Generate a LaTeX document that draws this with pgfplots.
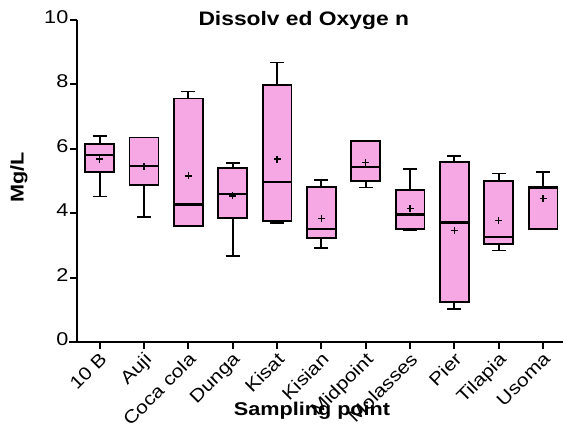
\documentclass[border=0pt]{standalone}
\usepackage{pgfplots}
\pgfplotsset{compat=1.18}
\usepgfplotslibrary{statistics}
\usepackage{fontspec}
\setmainfont{Liberation Sans}[FakeStretch=1.17]
\definecolor{boxpink}{RGB}{246,168,228}
\begin{document}
\begin{tikzpicture}
\begin{axis}[
  name=ax,
  scale only axis, width=485.5pt, height=322pt,
  xmin=-0.5, xmax=10.45, ymin=0, ymax=10,
  axis x line=bottom, axis y line=left,
  axis line style={-, line width=2pt},
  x axis line style={shorten <=-8pt},
  xtick={0,...,10},
  xticklabels={10 B, Auji, Coca cola, Dunga, Kisat, Kisian, Midpoint, Molasses, Pier, Tilapia, Usoma},
  ytick={0,2,4,6,8,10},
  tick align=outside, major tick length=7pt,
  every tick/.style={black, line width=2pt},
  ticklabel style={font=\fontsize{18.5}{18.5}\selectfont},
  xticklabel style={rotate=45, anchor=north east, inner sep=1pt, xshift=-1pt, yshift=0pt, font=\fontsize{18}{18}\selectfont},
  yticklabel style={anchor=east, yshift=3pt, inner sep=2pt},
  /pgf/number format/assume math mode=true,
  xlabel={Sampling point}, ylabel={Mg/L}, title={Dissolv ed Oxyge n},
  label style={font=\bfseries\fontsize{18.5}{18.5}\selectfont},
  xlabel style={at={(axis description cs:0.483,-0.2143)}, anchor=center},
  ylabel style={at={(axis description cs:-0.1205,0.512)}, anchor=center},
  title style={at={(axis description cs:0.466,0.9845)}, anchor=base, yshift=-7pt, font=\bfseries\fontsize{19.5}{19.5}\selectfont},
  clip=false,
  boxplot/draw direction=y,
  boxplot/box extend=0.65,
  boxplot/whisker extend=0.32,
  boxplot/every median/.style={line width=2.2pt},
]
\addplot[boxplot prepared={draw position=0, lower whisker=4.52, lower quartile=5.29, median=5.81, upper quartile=6.16, upper whisker=6.40}, draw=black, fill=boxpink, line width=1.8pt] coordinates {};
\addplot[boxplot prepared={draw position=1, lower whisker=3.87, lower quartile=4.88, median=5.47, upper quartile=6.35, upper whisker=6.35}, draw=black, fill=boxpink, line width=1.8pt] coordinates {};
\addplot[boxplot prepared={draw position=2, lower whisker=3.59, lower quartile=3.59, median=4.27, upper quartile=7.56, upper whisker=7.78}, draw=black, fill=boxpink, line width=1.8pt] coordinates {};
\addplot[boxplot prepared={draw position=3, lower whisker=2.68, lower quartile=3.85, median=4.60, upper quartile=5.40, upper whisker=5.55}, draw=black, fill=boxpink, line width=1.8pt] coordinates {};
\addplot[boxplot prepared={draw position=4, lower whisker=3.69, lower quartile=3.76, median=4.97, upper quartile=7.97, upper whisker=8.68}, draw=black, fill=boxpink, line width=1.8pt] coordinates {};
\addplot[boxplot prepared={draw position=5, lower whisker=2.92, lower quartile=3.24, median=3.50, upper quartile=4.81, upper whisker=5.02}, draw=black, fill=boxpink, line width=1.8pt] coordinates {};
\addplot[boxplot prepared={draw position=6, lower whisker=4.80, lower quartile=4.99, median=5.44, upper quartile=6.23, upper whisker=6.23}, draw=black, fill=boxpink, line width=1.8pt] coordinates {};
\addplot[boxplot prepared={draw position=7, lower whisker=3.49, lower quartile=3.52, median=3.96, upper quartile=4.72, upper whisker=5.37}, draw=black, fill=boxpink, line width=1.8pt] coordinates {};
\addplot[boxplot prepared={draw position=8, lower whisker=1.02, lower quartile=1.23, median=3.71, upper quartile=5.58, upper whisker=5.77}, draw=black, fill=boxpink, line width=1.8pt] coordinates {};
\addplot[boxplot prepared={draw position=9, lower whisker=2.84, lower quartile=3.04, median=3.25, upper quartile=4.99, upper whisker=5.23}, draw=black, fill=boxpink, line width=1.8pt] coordinates {};
\addplot[boxplot prepared={draw position=10, lower whisker=3.52, lower quartile=3.52, median=4.77, upper quartile=4.81, upper whisker=5.28}, draw=black, fill=boxpink, line width=1.8pt] coordinates {};
\addplot[only marks, mark=+, mark size=3.5pt, line width=1.5pt, black] coordinates {
(0,5.68) (1,5.45) (2,5.16) (3,4.54) (4,5.68) (5,3.84) (6,5.58) (7,4.14) (8,3.46) (9,3.77) (10,4.45)};
\end{axis}
\pgfresetboundingbox
\path ([xshift=-77.5pt,yshift=-90pt]ax.south west) rectangle ([yshift=20pt]ax.north east);
\end{tikzpicture}
\end{document}
